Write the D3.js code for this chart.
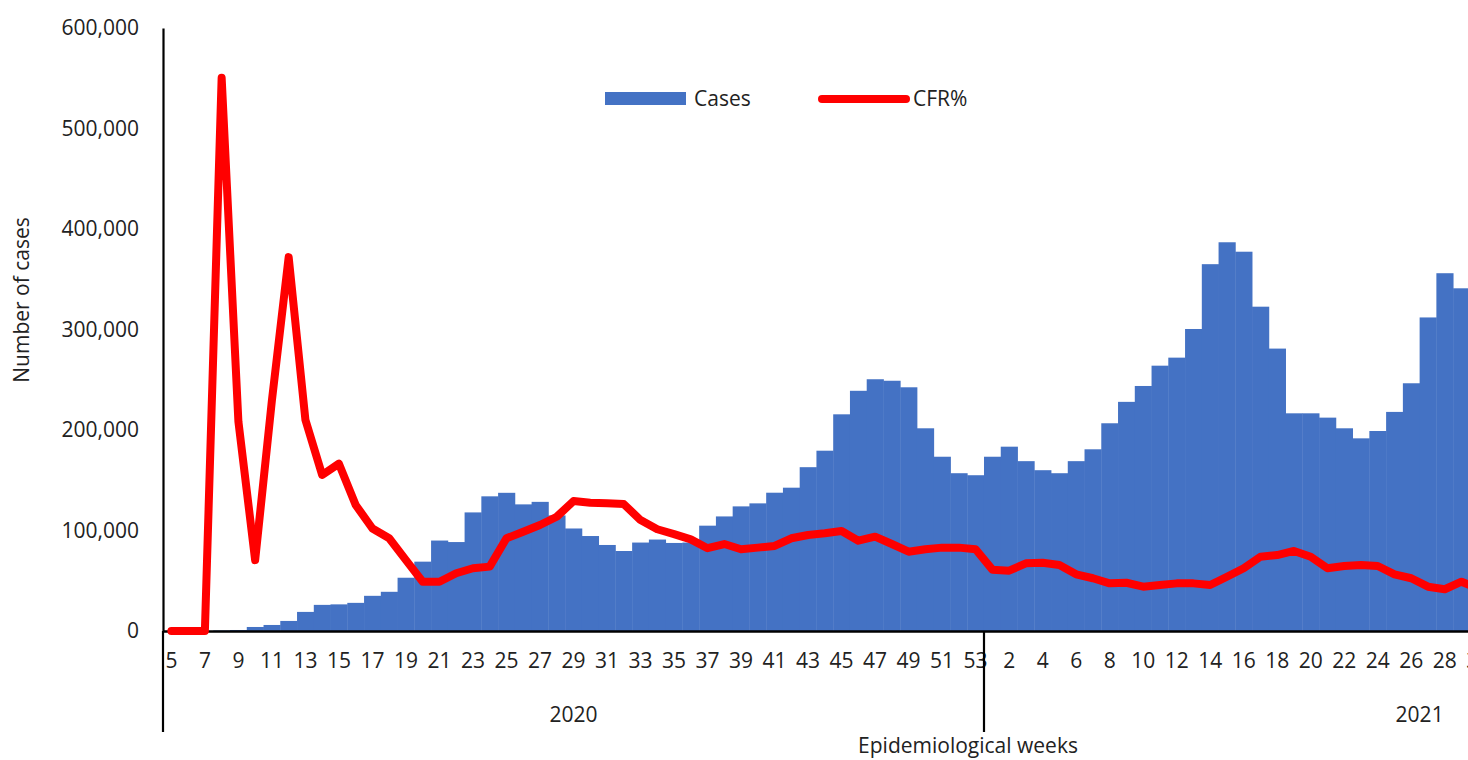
<!DOCTYPE html>
<html>
<head>
<meta charset="utf-8">
<script src="https://cdn.jsdelivr.net/npm/d3@7"></script>
<style>
  html, body { margin: 0; padding: 0; background: #ffffff; }
  svg { display: block; font-family: "Open Sans", "Noto Sans", sans-serif; }
</style>
</head>
<body>
<svg id="chart" width="1468" height="760"></svg>
<script>
// ---- data ----
const weeks2020 = d3.range(5, 54);          // weeks 5..53 of 2020
const weeks2021 = d3.range(1, 53);          // weeks 1..52 of 2021 (axis continues past the crop)

const cases2020 = [0, 0, 0, 500, 1000, 4000, 6000, 10000, 19000, 26000,
  26500, 28000, 35000, 39000, 53000, 69000, 90000, 88500, 118000, 134000,
  137500, 126000, 128500, 115000, 102000, 94500, 85600, 79600, 88000, 91000,
  87600, 88000, 104800, 114000, 124000, 127000, 137600, 142600, 163000, 179400,
  215600, 239000, 250500, 249000, 242500, 201700, 173400, 157000, 155000];
const cases2021 = [173400, 183400, 169000, 160000, 157000, 169000, 180800, 206700, 228000, 243800,
  264000, 272000, 300500, 365000, 386800, 377400, 322700, 281000, 216600, 216600,
  212300, 201700, 191700, 199000, 218000, 246500, 312000, 356000, 341000];

const cfr2020 = [0, 0, 0, 36.7, 13.9, 4.7, 15.3, 24.8, 14.0, 10.35,
  11.1, 8.36, 6.8, 6.15, 4.7, 3.27, 3.27, 3.83, 4.16, 4.27,
  6.15, 6.59, 7.03, 7.58, 8.62, 8.51, 8.47, 8.42, 7.36, 6.75,
  6.43, 6.08, 5.49, 5.77, 5.42, 5.53, 5.64, 6.15, 6.37, 6.48,
  6.63, 5.99, 6.26, 5.77, 5.26, 5.42, 5.53, 5.53, 5.42];
const cfr2021 = [4.07, 4.0, 4.49, 4.53, 4.38, 3.76, 3.5, 3.16, 3.2, 2.94,
  3.05, 3.16, 3.16, 3.05, 3.6, 4.16, 4.93, 5.04, 5.31, 4.93,
  4.16, 4.31, 4.38, 4.31, 3.76, 3.5, 2.94, 2.77, 3.27, 2.8];

const yTicks = [0, 100000, 200000, 300000, 400000, 500000, 600000];
const years = ["2020", "2021"];
const legendLabels = ["Cases", "CFR%"];
const yTitle = "Number of cases";
const xTitle = "Epidemiological weeks";

(function () {
const FONT = '"Open Sans", "Noto Sans", sans-serif';
// ---- build records ----
const keys = weeks2020.map(w => "2020-" + w).concat(weeks2021.map(w => "2021-" + w));
const weekOf = k => +k.split("-")[1];
const barData = weeks2020.map((w, i) => ({key: "2020-" + w, v: cases2020[i]}))
  .concat(cases2021.map((v, i) => ({key: "2021-" + weeks2021[i], v})));
const lineData = weeks2020.map((w, i) => ({key: "2020-" + w, v: cfr2020[i]}))
  .concat(cfr2021.map((v, i) => ({key: "2021-" + weeks2021[i], v})));

// ---- layout ----
const svg = d3.select("#chart");
const mLeft = 163, mTop = 28, mBottom = 631;
const bandW = 16.755;
const x = d3.scaleBand().domain(keys).range([mLeft, mLeft + keys.length * bandW]).padding(0);
const y = d3.scaleLinear().domain([0, 600000]).range([mBottom, mTop]);
const y2 = d3.scaleLinear().domain([0, 40]).range([mBottom, mTop]); // hidden secondary axis (%)

const blue = "#4472C4", red = "#FF0000";

// bars (no gap)
svg.append("g").selectAll("rect").data(barData).join("rect")
  .attr("x", d => x(d.key))
  .attr("width", x.bandwidth() + 0.4)
  .attr("y", d => y(d.v))
  .attr("height", d => mBottom - y(d.v))
  .attr("fill", blue);

// y axis
const yAxis = svg.append("g").attr("transform", `translate(${mLeft},0)`)
  .call(d3.axisLeft(y).tickValues(yTicks).tickFormat(d3.format(",")).tickSize(0).tickPadding(24));
yAxis.attr("font-family", FONT);
yAxis.select(".domain").attr("stroke", "#000").attr("stroke-width", 2.2);
yAxis.selectAll("text").attr("font-size", 21).attr("fill", "#222");

// x axis (labels every other week, only where the chart has data)
const lastKey = lineData[lineData.length - 1].key;
const lastIdx = keys.indexOf(lastKey);
const tickKeys = keys.filter((k, i) => i % 2 === 0 && i <= lastIdx);
const xAxis = svg.append("g").attr("transform", `translate(0,${mBottom})`)
  .call(d3.axisBottom(x).tickValues(tickKeys).tickFormat(k => weekOf(k)).tickSize(0).tickPadding(22));
xAxis.attr("font-family", FONT);
xAxis.select(".domain").attr("stroke", "#000").attr("stroke-width", 2.6);
xAxis.selectAll("text").attr("font-size", 21).attr("fill", "#222");

// multi-level category separators
const sepBottom = 732;
svg.append("line").attr("x1", mLeft).attr("x2", mLeft).attr("y1", mBottom).attr("y2", sepBottom)
  .attr("stroke", "#000").attr("stroke-width", 2.2);
svg.append("line").attr("x1", x("2021-1")).attr("x2", x("2021-1")).attr("y1", mBottom).attr("y2", sepBottom)
  .attr("stroke", "#000").attr("stroke-width", 2.2);

// year labels
const yearRanges = [
  [x("2020-5"), x("2020-53") + x.bandwidth()],
  [x("2021-1"), x("2021-52") + x.bandwidth()]
];
svg.append("g").selectAll("text").data(years).join("text")
  .attr("x", (d, i) => (yearRanges[i][0] + yearRanges[i][1]) / 2)
  .attr("y", 722)
  .attr("text-anchor", "middle")
  .attr("font-size", 21).attr("fill", "#222")
  .text(d => d);

// CFR line
const line = d3.line().x(d => x(d.key) + x.bandwidth() / 2).y(d => y2(d.v));
svg.append("path").datum(lineData)
  .attr("d", line)
  .attr("fill", "none").attr("stroke", red).attr("stroke-width", 8)
  .attr("stroke-linejoin", "round").attr("stroke-linecap", "round");

// axis titles
svg.append("text")
  .attr("transform", "translate(29,300) rotate(-90)")
  .attr("text-anchor", "middle").attr("font-size", 21).attr("fill", "#222")
  .text(yTitle);
svg.append("text")
  .attr("x", 968).attr("y", 753)
  .attr("text-anchor", "middle").attr("font-size", 21).attr("fill", "#222")
  .text(xTitle);

// legend
const lg = svg.append("g");
lg.append("rect").attr("x", 605).attr("y", 92).attr("width", 81).attr("height", 13).attr("fill", blue);
lg.append("text").attr("x", 694).attr("y", 106).attr("font-size", 21).attr("fill", "#222").text(legendLabels[0]);
lg.append("line").attr("x1", 822).attr("x2", 906).attr("y1", 99).attr("y2", 99)
  .attr("stroke", red).attr("stroke-width", 8).attr("stroke-linecap", "round");
lg.append("text").attr("x", 913).attr("y", 106).attr("font-size", 21).attr("fill", "#222").text(legendLabels[1]);
})();
</script>
</body>
</html>
